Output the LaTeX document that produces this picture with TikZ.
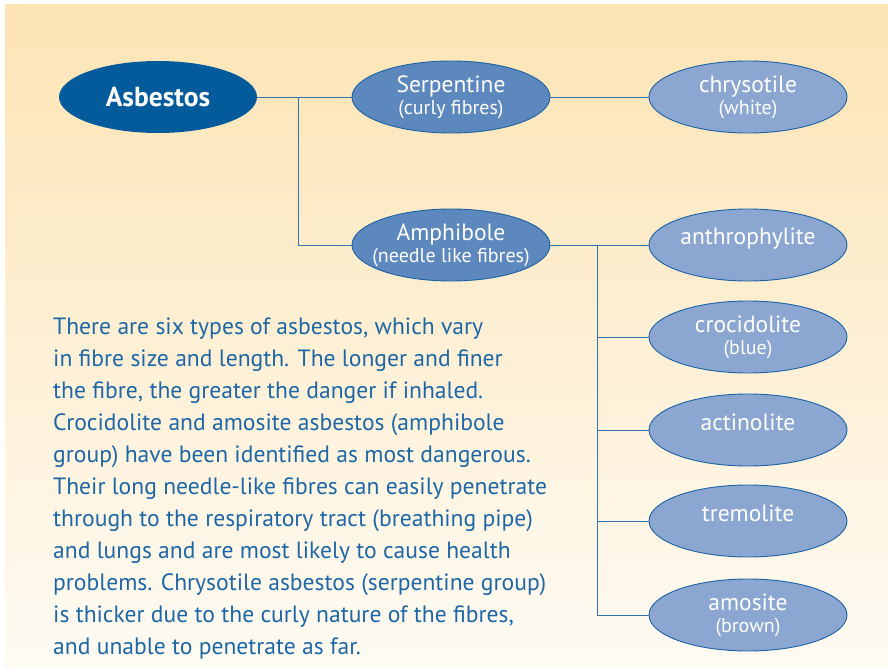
\documentclass[tikz,border=0pt]{standalone}
\usepackage{fontspec}
\setmainfont{PT Sans}
\usetikzlibrary{shapes.geometric}
\definecolor{bgtop}{HTML}{FDE4B4}
\definecolor{bgbot}{HTML}{FEFBF4}
\definecolor{darkfill}{HTML}{045B9C}
\definecolor{midfill}{HTML}{5D88BE}
\definecolor{lightfill}{HTML}{8BA7D1}
\definecolor{edgec}{HTML}{1A62A3}
\definecolor{linec}{HTML}{3474AE}
\definecolor{txtc}{HTML}{1D67A6}
\newcommand{\subline}[1]{{\fontsize{20}{23}\selectfont #1}}
\begin{document}
\begin{tikzpicture}[x=1pt,y=-1pt,
  oval/.style={ellipse, draw=edgec, line width=0.9pt, minimum width=198pt, minimum height=72pt,
    inner sep=0pt, text=white, align=center, font=\fontsize{23.5}{23}\selectfont},
  midoval/.style={oval, fill=midfill},
  lightoval/.style={oval, fill=lightfill},
  single/.style={text height=16pt, text depth=16pt},
  conn/.style={draw=linec, line width=0.9pt},
  para/.style={anchor=base west, inner sep=0pt, text=txtc, font=\fontsize{23.6}{32}\selectfont}]
\useasboundingbox (0,0) rectangle (888,668);
\shade[top color=bgtop, bottom color=bgbot] (5,5) rectangle (888,668);

\node[oval, fill=darkfill, draw=none, font=\bfseries\fontsize{27.5}{28}\selectfont] (asb) at (158,97) {Asbestos};
\node[midoval] (serp) at (451,97) {Serpentine\\[-1pt]\subline{(curly fibres)}};
\node[midoval] (amph) at (451,245) {\makebox[110pt][c]{Amphibole}\\[-1pt]\makebox[110pt][c]{\subline{(needle like fibres)}}};
\node[lightoval] (chry) at (748,97) {chrysotile\\[-1pt]\subline{(white)}};
\node[lightoval, single] (anth) at (748,245) {anthrophylite};
\node[lightoval] (croc) at (748,337) {crocidolite\\[-1pt]\subline{(blue)}};
\node[lightoval, single] (acti) at (748,430) {actinolite};
\node[lightoval, single] (trem) at (748,521) {tremolite};
\node[lightoval] (amos) at (748,615) {amosite\\[-1pt]\subline{(brown)}};

\coordinate (j1) at (298,97);
\coordinate (j2) at (597,245);
\draw[conn] (asb.east) -- (serp.west);
\draw[conn] (j1) |- (amph.west);
\draw[conn] (serp.east) -- (chry.west);
\draw[conn] (amph.east) -- (anth.west);
\draw[conn] (j2) |- (croc.west);
\draw[conn] (j2) |- (acti.west);
\draw[conn] (j2) |- (trem.west);
\draw[conn] (j2) |- (amos.west);

\foreach \t [count=\i] in {
  {There are six types of asbestos, which vary},
  {in fibre size and length. The longer and finer},
  {the fibre, the greater the danger if inhaled.},
  {Crocidolite and amosite asbestos (amphibole},
  {group) have been identified as most dangerous.},
  {Their long needle-like fibres can easily penetrate},
  {through to the respiratory tract (breathing pipe)},
  {and lungs and are most likely to cause health},
  {problems. Chrysotile asbestos (serpentine group)},
  {is thicker due to the curly nature of the fibres,},
  {and unable to penetrate as far.}}
  \node[para] (p\i) at (53,{334+32*(\i-1)}) {\t};
\end{tikzpicture}
\end{document}
